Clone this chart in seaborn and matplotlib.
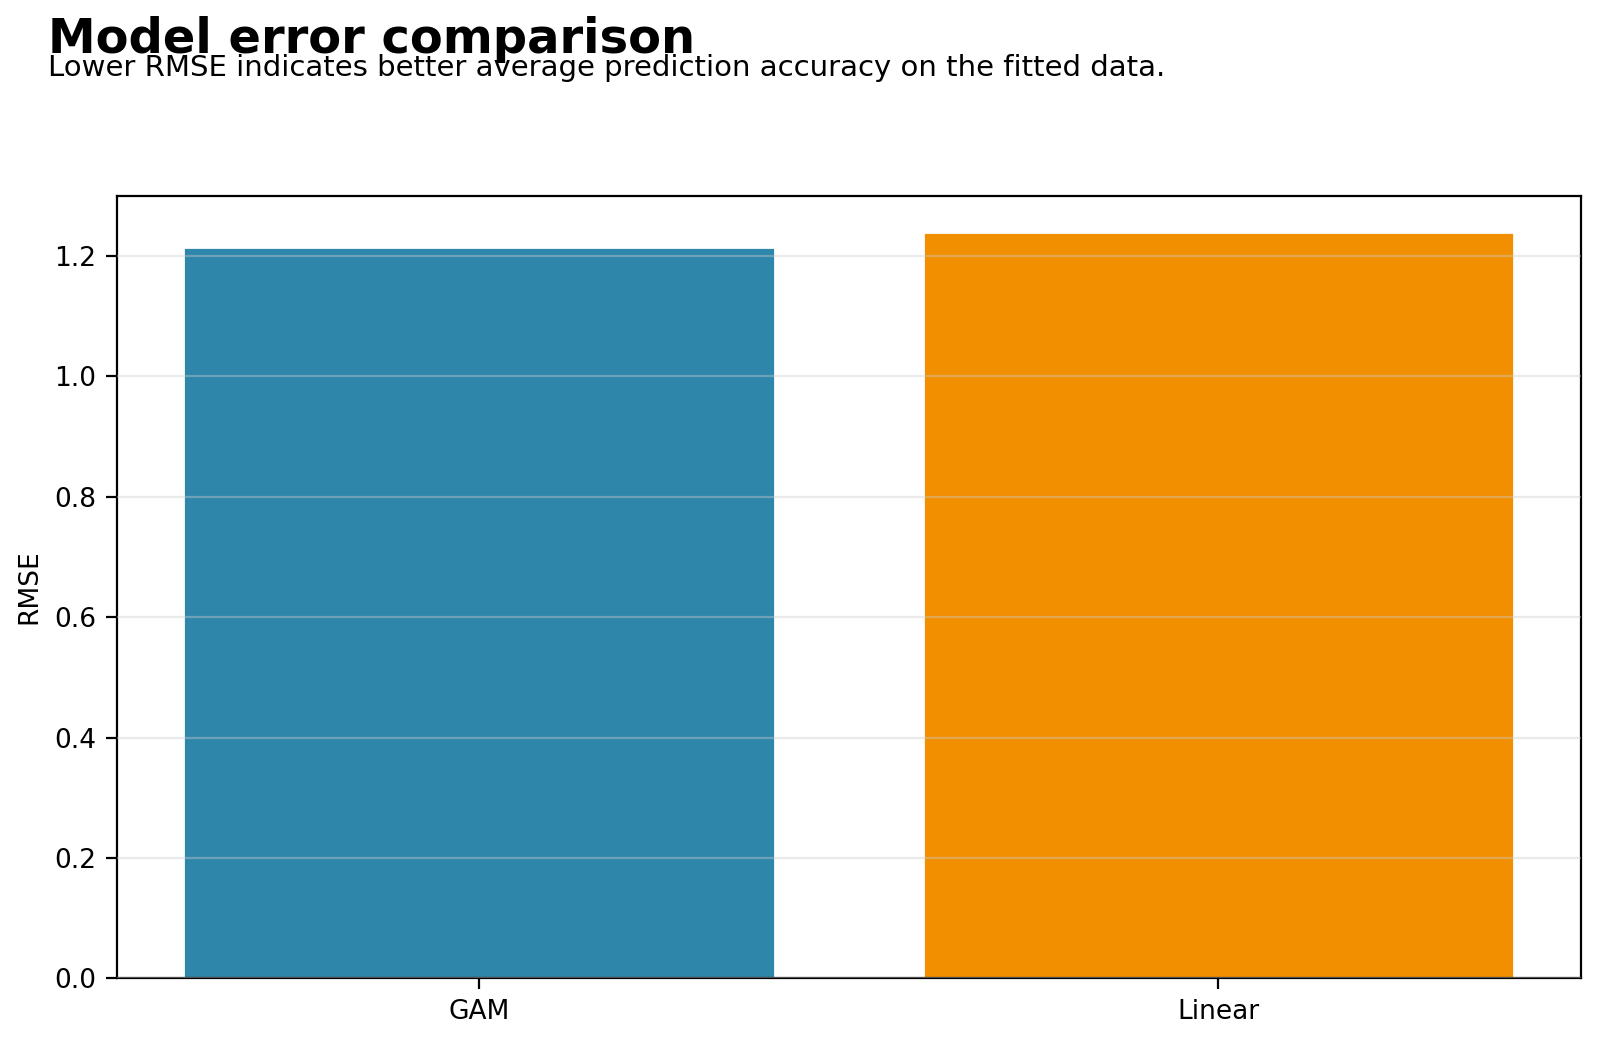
import matplotlib
matplotlib.use("Agg")
import matplotlib.pyplot as plt
import seaborn as sns
import pandas as pd

# Values
models = ["GAM", "Linear"]
rmse = [1.2155, 1.2395]
bar_colors = ["#2E86AB", "#F18F01"]

df = pd.DataFrame({"Model": models, "RMSE": rmse})

sns.set_style("white")
plt.rcParams['font.family'] = ['DejaVu Sans']
plt.rcParams['text.color'] = 'black'
plt.rcParams['axes.labelcolor'] = 'black'
plt.rcParams['xtick.color'] = 'black'
plt.rcParams['ytick.color'] = 'black'

fig, ax = plt.subplots(figsize=(8, 5.21), dpi=200)
fig.subplots_adjust(left=0.073, right=0.988, bottom=0.061, top=0.812)

sns.barplot(data=df, x="Model", y="RMSE", hue="Model", palette=bar_colors,
            legend=False, width=0.8, saturation=1, ax=ax)

ax.set_xlim(-0.49, 1.49)
ax.set_ylim(0, 1.3)
ax.set_xlabel("")
ax.set_ylabel("RMSE", fontsize=9.5)
ax.tick_params(axis="both", labelsize=9.5, length=4, width=0.8, direction="out",
               left=True, bottom=True)
ax.set_axisbelow(False)
ax.yaxis.grid(True, color="#cccccc", alpha=0.4, linewidth=0.8)
for s in ax.spines.values():
    s.set_color("black")
    s.set_linewidth(0.8)

fig.text(0.03, 0.949, "Model error comparison", fontsize=17.3, fontweight="bold",
         ha="left", va="baseline")
fig.text(0.03, 0.927, "Lower RMSE indicates better average prediction accuracy on the fitted data.",
         fontsize=10.5, ha="left", va="baseline")

fig.savefig("out.png", dpi=200)
